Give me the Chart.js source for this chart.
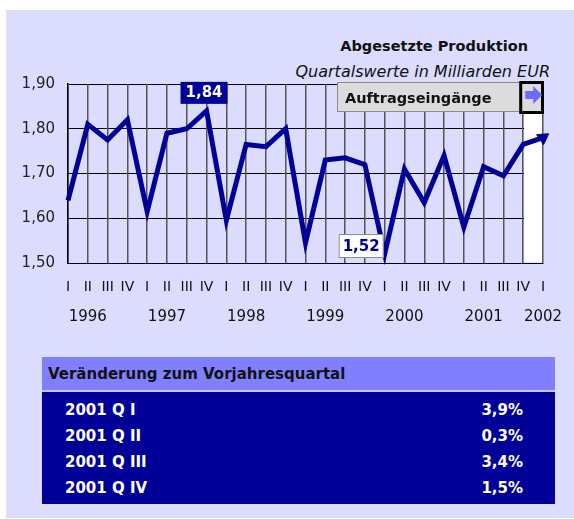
<!DOCTYPE html>
<html>
<head>
<meta charset="utf-8">
<script src="https://cdn.jsdelivr.net/npm/chart.js@4"></script>
<style>
  body { margin: 0; background: #fff; width: 574px; height: 519px; overflow: hidden; position: relative;
         font-family: 'DejaVu Sans', 'Liberation Sans', sans-serif; }
  #panel { position: absolute; left: 6px; top: 10px; width: 568px; height: 508px; background: #dcdcfe; }
  #chart { position: absolute; left: 0; top: 0; }
  .title { position: absolute; color: #111; white-space: nowrap; }
  #t1 { right: 46px; top: 38px; font-size: 14.5px; font-weight: bold; }
  #t2 { right: 24px; top: 62px; font-size: 16px; font-style: italic; }
  #tbl { position: absolute; left: 42px; top: 357px; width: 513px; border-collapse: collapse; }
  #tbl th { background: #8080ff; color: #111; font-size: 15px; font-weight: bold; text-align: left;
            height: 33px; padding: 0 0 0 6px; border-bottom: 2px solid #c8c8ff; }
  #tbl td { background: #000099; color: #fff; font-size: 15px; font-weight: bold; height: 26px; padding: 0; }
  #tbl td.lab { padding-left: 23px; }
  #tbl td.val { text-align: right; padding-right: 32px; }
  #tbl tr.first td { padding-top: 5px; }
  #tbl tr.last td { padding-bottom: 3px; }
</style>
</head>
<body>
<div id="panel"></div>
<div class="title" id="t1">Abgesetzte Produktion</div>
<div class="title" id="t2">Quartalswerte in Milliarden EUR</div>
<canvas id="chart" width="574" height="340"></canvas>
<table id="tbl"></table>
<script>
const quarterLabels = ['I','II','III','IV','I','II','III','IV','I','II','III','IV','I','II','III','IV','I','II','III','IV','I','II','III','IV','I']
const years = ['1996','1997','1998','1999','2000','2001','2002']
const production = [1.64, 1.81, 1.775, 1.82, 1.615, 1.79, 1.80, 1.84, 1.595, 1.765, 1.76, 1.80,
                    1.545, 1.73, 1.735, 1.72, 1.52, 1.71, 1.635, 1.74, 1.58, 1.715, 1.695, 1.765, 1.78]
const yTicks = [1.5, 1.6, 1.7, 1.8, 1.9]
const legendLabel = 'Auftragseingänge'
const tableTitle = 'Veränderung zum Vorjahresquartal'
const tableRows = ['2001 Q I', '2001 Q II', '2001 Q III', '2001 Q IV']
const tableValues = [3.9, 0.3, 3.4, 1.5]

const FONT = "'DejaVu Sans', 'Liberation Sans', sans-serif"
const NAVY = '#000099'
const comma = (v, d) => v.toFixed(d).replace('.', ',')

// year under quarter II, last year under the last quarter
const yearLabels = quarterLabels.map((q, i) => {
    if (i === quarterLabels.length - 1) return years[years.length - 1]
    if (q === 'II') return years[Math.floor(i / 4)]
    return ''
})

// table
const tbl = document.getElementById('tbl')
tbl.innerHTML = `<tr><th colspan="2">${tableTitle}</th></tr>` + tableRows.map((r, i) =>
    `<tr class="${i === 0 ? 'first' : ''}${i === tableRows.length - 1 ? 'last' : ''}"><td class="lab">${r}</td><td class="val">${comma(tableValues[i], 1)}%</td></tr>`
).join('')

const decor = {
    id: 'decor',
    beforeDatasetsDraw(chart) {
        const {ctx, chartArea, scales: {x}} = chart
        const n = production.length
        const l = x.getPixelForValue(n - 2), r = x.getPixelForValue(n - 1)
        ctx.save()
        ctx.fillStyle = '#ffffff'
        ctx.fillRect(l + 1, chartArea.top + 30, r - l - 2, chartArea.bottom - chartArea.top - 31)
        ctx.restore()
    },
    afterDatasetsDraw(chart) {
        const {ctx, chartArea, scales: {x, y}} = chart
        const n = production.length
        ctx.save()
        // legend box
        const bl = x.getPixelForValue(n - 2) - 4, br = chartArea.right + 1
        const bt = chartArea.top - 3, bb = chartArea.top + 30
        ctx.fillStyle = '#dcdcdc'
        ctx.strokeStyle = '#8a8a8a'
        ctx.lineWidth = 1
        ctx.fillRect(337, chartArea.top - 2, bl - 337, 30)
        ctx.strokeRect(337.5, chartArea.top - 1.5, bl - 337, 29)
        ctx.fillStyle = '#111'
        ctx.font = `bold 14.5px ${FONT}`
        ctx.textBaseline = 'middle'
        ctx.textAlign = 'left'
        ctx.fillText(legendLabel, 345, chartArea.top + 15)
        ctx.fillStyle = '#dcdcdc'
        ctx.fillRect(bl, bt, br - bl, bb - bt)
        ctx.strokeStyle = '#000'
        ctx.lineWidth = 3
        ctx.strokeRect(bl + 1.5, bt + 1.5, br - bl - 3, bb - bt - 3)
        // arrow
        const ax = bl + 6, ay = bt + 14
        ctx.fillStyle = '#6b6bff'
        ctx.fillRect(ax, ay - 4, 9, 8)
        ctx.beginPath()
        ctx.moveTo(ax + 8, ay - 9)
        ctx.lineTo(ax + 17, ay)
        ctx.lineTo(ax + 8, ay + 9)
        ctx.closePath()
        ctx.fill()

        // max / min callouts
        const maxV = Math.max(...production), minV = Math.min(...production)
        const iMax = production.indexOf(maxV), iMin = production.indexOf(minV)
        ctx.font = `bold 15px ${FONT}`
        ctx.textAlign = 'center'
        let px = x.getPixelForValue(iMax), py = y.getPixelForValue(maxV)
        ctx.fillStyle = NAVY
        ctx.fillRect(px - 26, py - 29, 47, 22)
        ctx.fillStyle = '#fff'
        ctx.fillText(comma(maxV, 2), px - 2.5, py - 17.5)
        px = x.getPixelForValue(iMin); py = y.getPixelForValue(minV)
        ctx.fillStyle = '#fff'
        ctx.fillRect(px - 46, py - 20, 45, 24)
        ctx.strokeStyle = '#888'
        ctx.lineWidth = 1
        ctx.strokeRect(px - 45.5, py - 19.5, 44, 23)
        ctx.fillStyle = NAVY
        ctx.fillText(comma(minV, 2), px - 23.5, py - 7)
        ctx.restore()
    }
}

new Chart(document.getElementById('chart'), {
    type: 'line',
    data: {
        labels: quarterLabels,
        datasets: [{
            data: production,
            borderColor: NAVY,
            borderWidth: 5,
            borderJoinStyle: 'miter',
            tension: 0,
            clip: false,
            pointStyle: 'triangle',
            pointRadius: ctx => ctx.dataIndex === production.length - 1 ? 7 : 0,
            pointRotation: 55,
            pointBackgroundColor: NAVY,
            pointBorderColor: NAVY,
            pointBorderWidth: 1
        }]
    },
    plugins: [decor],
    options: {
        responsive: false,
        animation: false,
        layout: {padding: {top: 84, right: 31, left: 0, bottom: 10}},
        plugins: {legend: {display: false}, tooltip: {enabled: false}},
        scales: {
            y: {
                min: 1.5,
                max: 1.9,
                afterFit: s => { s.width = 68 },
                afterBuildTicks: s => { s.ticks = yTicks.map(v => ({value: v})) },
                grid: {color: '#000', lineWidth: 1, drawTicks: false},
                border: {color: '#000', width: 1.5},
                ticks: {
                    padding: 13,
                    color: '#222',
                    font: {family: FONT, size: 15},
                    callback: v => comma(v, 2)
                }
            },
            x: {
                offset: false,
                afterFit: s => { s.height = 38 },
                grid: {color: '#555', lineWidth: 1.5, drawTicks: false},
                border: {color: '#000', width: 1},
                ticks: {
                    autoSkip: false,
                    maxRotation: 0,
                    padding: 16,
                    color: '#111',
                    font: {family: FONT, size: 14}
                }
            },
            x2: {
                type: 'category',
                position: 'bottom',
                labels: yearLabels,
                offset: false,
                afterFit: s => { s.height = 29 },
                grid: {display: false, drawTicks: false},
                border: {display: false},
                ticks: {
                    autoSkip: false,
                    maxRotation: 0,
                    padding: 7,
                    color: '#111',
                    font: {family: FONT, size: 15}
                }
            }
        }
    }
})
</script>
</body>
</html>
